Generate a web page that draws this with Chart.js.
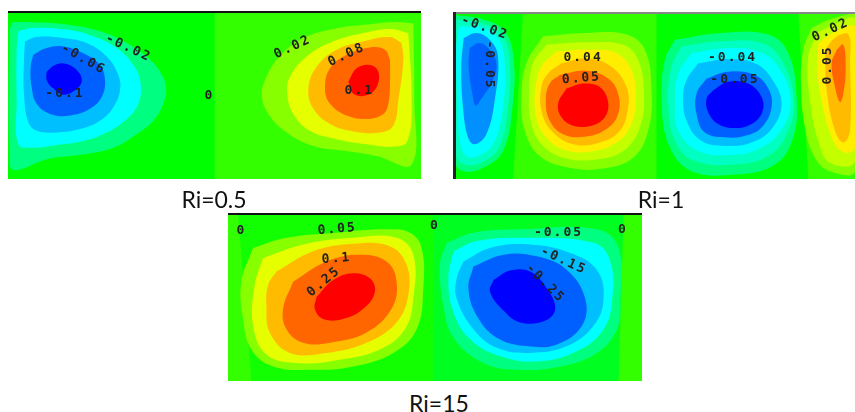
<!DOCTYPE html>
<html lang="en">
<head>
  <meta charset="UTF-8">
  <title>Ri contours</title>
  <script src="https://cdn.jsdelivr.net/npm/chart.js"></script>
  <style>
    html, body { margin: 0; background: #fff; overflow: hidden; }
    canvas { position: absolute; filter: blur(0.7px); }
    .cap { position: absolute; font: 23px Lato, sans-serif; color: #111; transform: translateX(-50%); white-space: nowrap; }
  </style>
</head>
<body>
  <canvas id="a" width="413" height="168" style="left:8px;top:11px"></canvas>
  <canvas id="b" width="402" height="167" style="left:453px;top:12px"></canvas>
  <canvas id="c" width="414" height="168" style="left:228px;top:213px"></canvas>
  <div class="cap" style="left:214px;top:185px">Ri=0.5</div>
  <div class="cap" style="left:661px;top:185px">Ri=1</div>
  <div class="cap" style="left:439px;top:389px">Ri=15</div>
  <script>
    // contour outlines. units are 1/3 px from the crop of each panel
    const aBackL = [[24,35],[650,35],[650,533],[24,533]];
    const aBackR = [[644,35],[1263,35],[1263,533],[644,533]];
    const aN1 = [[35,68],[100,68],[200,75],[300,95],[380,130],[440,170],[480,215],[498,260],[490,310],[460,360],[410,400],[340,440],[250,460],[150,472],[30,495],[28,100]];
    const aN2 = [[55,95],[100,85],[200,90],[280,110],[350,145],[400,195],[422,250],[415,310],[380,355],[320,395],[250,420],[170,432],[100,440],[55,430],[50,300],[50,150]];
    const aN3 = [[75,125],[110,112],[190,115],[260,130],[320,170],[355,225],[360,270],[340,320],[300,360],[240,385],[170,395],[110,390],[85,365],[72,280],[72,180]];
    const aN4 = [[100,165],[140,145],[190,140],[250,160],[300,195],[315,240],[305,290],[270,325],[210,345],[150,340],[110,310],[95,260],[92,200]];
    const aN5 = [[140,215],[165,195],[200,192],[235,215],[245,245],[225,270],[190,283],[160,265],[140,240]];
    const aP1 = [[1240,72],[1180,68],[1100,75],[1000,88],[900,120],[830,180],[795,240],[785,285],[805,340],[860,395],[940,435],[1040,450],[1130,465],[1235,490],[1243,300]];
    const aP2 = [[1225,100],[1170,88],[1090,100],[1000,125],[920,170],[870,230],[862,280],[880,340],[930,390],[1010,415],[1100,430],[1180,437],[1222,420],[1235,300]];
    const aP3 = [[1205,130],[1170,112],[1090,125],[1010,150],[950,200],[925,265],[940,325],[990,370],[1060,392],[1140,395],[1180,375],[1195,300],[1210,180]];
    const aP4 = [[1170,180],[1155,150],[1110,143],[1040,165],[990,205],[975,265],[990,310],[1040,345],[1100,355],[1150,340],[1165,310],[1170,250]];
    const aP5 = [[1045,245],[1070,205],[1110,195],[1135,215],[1130,260],[1100,285],[1060,280]];

    const bBack1 = [[40,38],[256,38],[226,533],[40,533]];
    const bBack2 = [[250,38],[656,38],[656,533],[220,533]];
    const bBack3 = [[650,38],[1081,38],[1111,533],[650,533]];
    const bBack4 = [[1075,38],[1245,38],[1245,533],[1105,533]];
    const bS1 = [[45,48],[130,60],[195,95],[222,180],[218,320],[190,450],[130,500],[70,510],[45,480]];
    const bS2 = [[50,60],[130,72],[190,110],[210,190],[205,320],[178,440],[125,485],[72,490],[50,460]];
    const bS3 = [[58,80],[140,88],[180,125],[195,190],[190,320],[160,430],[115,465],[80,465],[60,420],[52,280],[50,150]];
    const bS4 = [[72,115],[110,100],[150,120],[175,170],[165,300],[140,400],[105,430],[85,410],[70,320],[65,200]];
    const bS5 = [[90,145],[120,130],[150,150],[170,190],[160,240],[125,295],[108,315],[98,280],[87,200]];
    const bH1 = [[310,110],[440,100],[560,105],[615,150],[635,270],[625,390],[580,470],[490,502],[390,500],[300,465],[255,390],[245,290],[260,190]];
    const bH2 = [[320,135],[440,128],[550,135],[595,180],[612,280],[600,380],[550,450],[470,475],[380,472],[310,435],[275,370],[268,280],[280,190]];
    const bH3 = [[350,155],[440,150],[530,160],[575,210],[588,290],[575,370],[530,425],[450,452],[370,445],[315,405],[288,340],[288,260],[305,200]];
    const bH4 = [[365,190],[440,175],[515,200],[560,260],[565,320],[540,390],[480,425],[400,430],[335,390],[305,330],[305,260],[325,220]];
    const bH5 = [[360,225],[440,212],[505,235],[535,280],[535,340],[500,385],[435,408],[370,400],[330,360],[318,300],[330,250]];
    const bH6 = [[380,265],[430,250],[480,260],[505,305],[495,350],[455,375],[400,375],[365,350],[355,310]];
    const bC1 = [[705,120],[845,100],[985,105],[1045,160],[1070,290],[1060,410],[1005,490],[885,520],[755,510],[690,440],[665,310],[675,180]];
    const bC2 = [[725,140],[845,125],[965,130],[1025,180],[1062,300],[1040,400],[985,465],[885,490],[765,480],[705,420],[685,310],[695,200]];
    const bC3 = [[755,160],[865,145],[955,155],[1015,200],[1052,300],[1022,390],[955,445],[875,462],[775,450],[715,390],[705,310],[715,220]];
    const bC4 = [[775,190],[865,178],[945,190],[995,235],[1025,310],[995,385],[935,425],[865,435],[785,420],[740,360],[730,290],[740,240]];
    const bC5 = [[800,235],[865,215],[945,225],[985,265],[995,320],[965,380],[915,405],[865,410],[795,395],[770,340],[770,280]];
    const bC6 = [[820,270],[865,245],[925,250],[965,290],[967,335],[935,370],[885,382],[835,370],[805,335],[800,295]];
    const bR1 = [[1115,85],[1170,60],[1245,45],[1245,510],[1170,510],[1125,470],[1095,380],[1083,250],[1090,150]];
    const bR2 = [[1130,100],[1190,72],[1245,60],[1245,480],[1170,485],[1135,420],[1110,300],[1105,170]];
    const bR3 = [[1135,130],[1180,100],[1245,85],[1245,440],[1215,455],[1180,420],[1145,300],[1132,200]];
    const bR4 = [[1155,150],[1185,115],[1225,105],[1230,190],[1230,390],[1210,425],[1185,390],[1160,270]];
    const bR5 = [[1190,150],[1210,135],[1217,210],[1210,280],[1200,305],[1185,260],[1175,190]];

    const cBack1 = [[25,27],[646,27],[646,523],[25,523]];
    const cBack2 = [[55,27],[646,27],[646,523],[95,523]];
    const cBack3 = [[640,27],[1216,27],[1201,523],[640,523]];
    const cBack4 = [[1210,27],[1265,27],[1265,523],[1195,523]];
    const cH1 = [[100,130],[200,100],[350,85],[500,75],[570,85],[605,130],[610,250],[590,370],[520,440],[400,480],[280,490],[160,480],[95,430],[70,340],[65,230]];
    const cH2 = [[130,160],[250,120],[400,100],[530,100],[580,150],[580,280],[555,370],[480,430],[360,460],[230,470],[140,445],[100,360],[105,240]];
    const cH3 = [[170,200],[280,140],[400,118],[510,125],[560,180],[565,270],[530,350],[440,410],[320,440],[210,440],[150,380],[140,300],[145,240]];
    const cH4 = [[220,230],[320,170],[420,150],[500,170],[530,230],[515,310],[440,380],[330,410],[250,410],[200,370],[190,310]];
    const cH5 = [[290,275],[340,225],[400,205],[450,220],[465,260],[430,310],[370,340],[310,340],[285,310]];
    const cC1 = [[680,115],[760,85],[900,75],[1130,75],[1195,130],[1200,290],[1190,370],[1130,440],[1020,480],[890,490],[790,470],[700,395],[670,300],[660,180]];
    const cC2 = [[700,140],[770,110],[900,100],[1120,115],[1170,170],[1175,290],[1150,370],[1080,430],[960,465],[840,450],[750,400],[700,320],[685,220]];
    const cC3 = [[730,170],[810,130],[930,120],[1050,145],[1130,195],[1150,280],[1120,360],[1040,420],[930,440],[830,425],[760,370],[710,280],[710,220]];
    const cC4 = [[760,185],[850,150],[950,155],[1040,195],[1095,280],[1085,360],[1010,415],[920,420],[830,395],[770,330],[745,250]];
    const cC5 = [[820,225],[870,197],[930,200],[980,250],[1005,310],[975,345],[900,350],[850,315],[810,260]];

    const aLabels = ['-0.02','-0.06','-0.1','0','0.02','0.08','0.1'];
    const aLabelX = [385,250,195,628,878,1040,1078];
    const aLabelY = [145,178,280,285,142,165,272];
    const aLabelRot = [25,30,0,0,-25,-25,0];
    const bLabels = ['-0.02','-0.05','0.04','0.05','-0.04','-0.05','0.02','0.05'];
    const bLabelX = [135,150,430,425,878,885,1172,1163];
    const bLabelY = [85,195,172,235,172,237,92,195];
    const bLabelRot = [20,90,0,-5,0,0,-25,-90];
    const cLabels = ['0','0.05','0','-0.05','0','0.1','0.25','-0.15','-0.25'];
    const cLabelX = [65,352,645,1015,1208,350,312,1030,975];
    const cLabelY = [80,75,65,85,75,162,230,168,235];
    const cLabelRot = [0,-5,0,0,0,-5,-40,25,45];

    const G = '#00ff00', G2 = '#33ff00';
    const N1 = '#00ff80', N1b = '#00ffc0', N2 = '#00ffff', N3 = '#00bfff', N3b = '#0090ff', N4 = '#0060ff', N5 = '#0000ff';
    const P1 = '#88ff00', P1b = '#c4ff00', P2 = '#e6ff00', P2b = '#ffee00', P3 = '#ffbb00', P4 = '#ff6600', P5 = '#ff0000';

    const contourLabels = {
      id: 'contourLabels',
      afterDraw(chart) {
        const o = chart.options.plugins.contourLabels;
        const ctx = chart.ctx;
        ctx.save();
        ctx.font = 'bold 13px "DejaVu Sans Mono"';
        ctx.letterSpacing = '2px';
        ctx.fillStyle = '#222';
        ctx.textAlign = 'center';
        ctx.textBaseline = 'middle';
        o.text.forEach((t, i) => {
          ctx.save();
          ctx.translate(chart.scales.x.getPixelForValue(o.x[i]), chart.scales.y.getPixelForValue(o.y[i]));
          ctx.rotate(o.rot[i] * Math.PI / 180);
          ctx.fillText(t, 0, 0);
          ctx.restore();
        });
        ctx.restore();
      }
    };

    function panel(id, xr, yr, layers, text, x, y, rot, leftLine) {
      // outer first in the list; chart.js paints dataset 0 last, so flip it
      const datasets = layers.map(([pts, colour]) => ({
        data: pts.concat([pts[0]]).map(p => ({x: p[0], y: p[1]})),
        showLine: true,
        fill: 'shape',
        backgroundColor: colour,
        borderWidth: 0,
        pointRadius: 0,
        tension: pts.length > 4 ? 0.4 : 0
      })).reverse();
      new Chart(document.getElementById(id), {
        type: 'scatter',
        data: {datasets},
        plugins: [contourLabels],
        options: {
          responsive: false,
          animation: false,
          layout: {padding: 0},
          plugins: {legend: {display: false}, tooltip: {enabled: false}, contourLabels: {text, x, y, rot}},
          scales: {
            x: {type: 'linear', position: 'top', min: xr[0], max: xr[1], ticks: {display: false},
                grid: {display: false, drawTicks: false}, border: {z: 1, color: id === 'b' ? '#888' : '#111', width: 3}},
            y: {type: 'linear', reverse: true, min: yr[0], max: yr[1], ticks: {display: false},
                grid: {display: false, drawTicks: false}, border: {z: 1, display: leftLine, color: '#222', width: 5}}
          }
        }
      });
    }

    panel('a', [24,1263], [35,533], [
      [aBackL,G],[aBackR,G2],[aN1,N1],[aN2,N2],[aN3,N3],[aN4,N4],[aN5,N5],
      [aP1,P1],[aP2,P2],[aP3,P3],[aP4,P4],[aP5,P5]
    ], aLabels, aLabelX, aLabelY, aLabelRot, false);

    panel('b', [40,1245], [38,533], [
      [bBack1,G],[bBack2,G2],[bBack3,G],[bBack4,G2],
      [bS1,N1],[bS2,N1b],[bS3,N2],[bS4,N3b],[bS5,N4],
      [bH1,P1],[bH2,P1b],[bH3,P2b],[bH4,P3],[bH5,P4],[bH6,P5],
      [bC1,N1],[bC2,N1b],[bC3,N2],[bC4,N3],[bC5,N4],[bC6,N5],
      [bR1,P1],[bR2,P1b],[bR3,P2b],[bR4,P3],[bR5,P4]
    ], bLabels, bLabelX, bLabelY, bLabelRot, true);

    panel('c', [25,1265], [27,523], [
      [cBack1,G2],[cBack2,'#11ff00'],[cBack3,'#00ff20'],[cBack4,G2],
      [cH1,P1],[cH2,P2],[cH3,P3],[cH4,P4],[cH5,P5],
      [cC1,N1],[cC2,N2],[cC3,N3],[cC4,N4],[cC5,N5]
    ], cLabels, cLabelX, cLabelY, cLabelRot, false);
  </script>
</body>
</html>
